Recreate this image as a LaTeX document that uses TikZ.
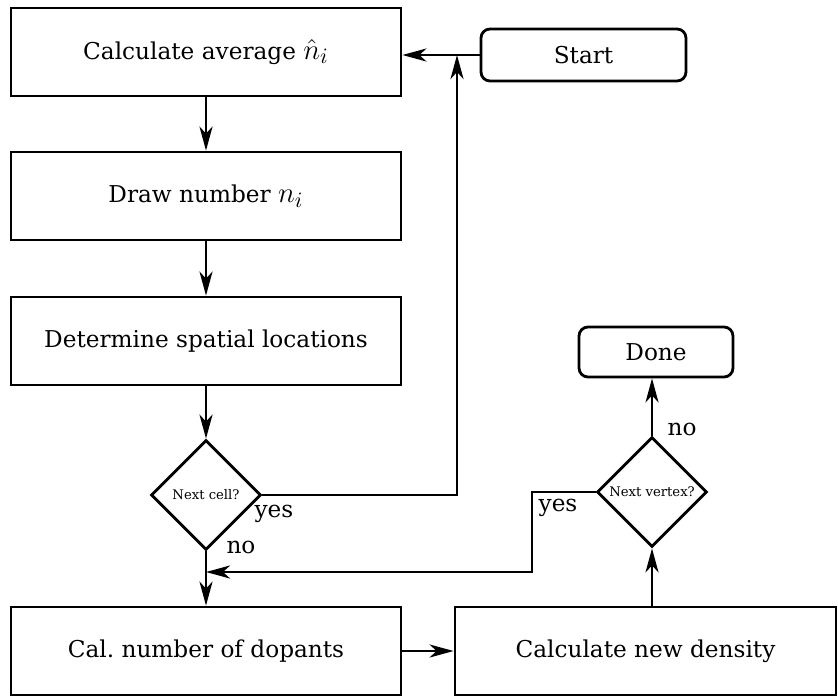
\documentclass[tikz,border=0pt]{standalone}
\usepackage{fontspec}
\setmainfont{DejaVu Serif}
\usetikzlibrary{shapes.geometric,arrows.meta,calc}
% math symbols set a little larger than the serif text around them
\newcommand{\bigmath}[1]{{\fontsize{15}{17}\selectfont$#1$}}
\begin{document}
\begin{tikzpicture}[x=0.5pt,y=-0.5pt,
  every node/.style={font=\fontsize{11.6}{14}\selectfont},
  line width=1.4pt,
  arr/.style={-{Stealth[length=12pt,width=6.5pt,inset=3.5pt]}},
  procbox/.style={draw,rectangle,minimum width=195pt,minimum height=44pt,inner sep=0pt},
  termbox/.style={draw,rectangle,rounded corners=4.5pt,minimum height=26pt,inner sep=0pt},
  decide/.style={draw,diamond,minimum width=55pt,minimum height=55pt,inner sep=0pt,
                 font=\fontsize{6.6}{8}\selectfont},
  lbl/.style={inner sep=0pt}]
\useasboundingbox (0,0) rectangle (838,697);

% process boxes
\node[procbox] (avg) at (206,52) {Calculate average \bigmath{\hat{n}_i}};
\node[procbox] (draw) at (206,196) {Draw number \bigmath{n_i}};
\node[procbox] (loc) at (206,341) {Determine spatial locations};
\node[procbox] (dop) at (206,651) {Cal.\ number of dopants};
\node[procbox,minimum width=190.5pt] (dens) at (645.5,651) {Calculate new density};

% terminals
\node[termbox,minimum width=102.5pt] (start) at (583.5,55) {Start};
\node[termbox,minimum width=77pt,minimum height=25pt] (done) at (656,352) {Done};

% decisions
\node[decide] (cell) at (206,495) {Next cell?};
\node[decide] (vert) at (652,492) {Next vertex?};

% bend points
\coordinate (c1) at (457,495);
\coordinate (c2) at (457,55);
\coordinate (v1) at (532,492);
\coordinate (v2) at (532,572);
\coordinate (v3) at (206,572);

% connectors
\draw[arr] (avg) -- (draw);
\draw[arr] (draw) -- (loc);
\draw[arr] (loc) -- (cell);
\draw[arr] (cell) -- (dop);
\draw[arr] (start.west) -- (avg.east |- start.west);
\draw[arr] (cell.east) -- (c1) -- (c2);
\draw[arr] (dop) -- (dens);
\draw[arr] (dens.north -| vert.south) -- (vert.south);
\draw[arr] (vert.north) -- (vert.north |- done.south);
\draw[arr] (vert.west) -- (v1) -- (v2) -- (v3);

% branch labels
\node[lbl] (yes1) at (274,514) {yes};
\node[lbl] (no1) at (241,547) {no};
\node[lbl] (yes2) at (558,508) {yes};
\node[lbl] (no2) at (682,429) {no};
\end{tikzpicture}
\end{document}
